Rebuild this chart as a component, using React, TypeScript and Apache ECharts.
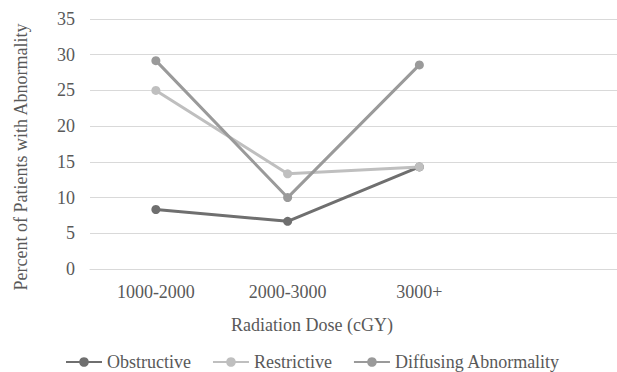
import React, { useEffect, useRef } from "react";
import * as echarts from "echarts";

const categories = ["1000-2000", "2000-3000", "3000+", ""];
const obstructive = [8.33, 6.67, 14.29, null];
const restrictive = [25.0, 13.33, 14.29, null];
const diffusing = [29.17, 10.0, 28.57, null];
const seriesNames = ["Obstructive", "Restrictive", "Diffusing Abnormality"];
const colors = ["#6f6f6f", "#bfbfbf", "#9a9a9a"];
const xTitle = "Radiation Dose (cGY)";
const yTitle = "Percent of Patients with Abnormality";

const FONT = "Liberation Serif";
const TEXT = "#595959";
const FS = 18;

export default function App() {
  const ref = useRef<HTMLDivElement>(null);
  useEffect(() => {
    if (!ref.current) return;
    const chart = echarts.init(ref.current, undefined, { renderer: "svg" });
    const data = [obstructive, restrictive, diffusing];
    chart.setOption({
      animation: false,
      backgroundColor: "#ffffff",
      textStyle: { fontFamily: FONT },
      grid: { left: 90, right: 0, top: 19, bottom: 103, containLabel: false },
      legend: {
        left: 65,
        top: 352,
        padding: 0,
        itemWidth: 36,
        itemHeight: 12,
        itemGap: 21,
        textStyle: { fontFamily: FONT, fontSize: FS, color: TEXT, lineHeight: 20 },
        data: seriesNames,
      },
      xAxis: {
        type: "category",
        data: categories,
        boundaryGap: true,
        axisLine: { show: true, lineStyle: { color: "#d9d9d9", width: 1 } },
        axisTick: { show: false },
        axisLabel: { color: TEXT, fontFamily: FONT, fontSize: FS, margin: 14 },
      },
      yAxis: {
        type: "value",
        min: 0,
        max: 35,
        interval: 5,
        axisLine: { show: false },
        axisTick: { show: false },
        axisLabel: { color: TEXT, fontFamily: FONT, fontSize: FS, margin: 15 },
        splitLine: { lineStyle: { color: "#d9d9d9", width: 1 } },
      },
      graphic: [
        {
          type: "text",
          x: 312,
          y: 325,
          style: {
            text: xTitle,
            fill: TEXT,
            fontFamily: FONT,
            fontSize: FS,
            textAlign: "center",
            textVerticalAlign: "middle",
          },
        },
        {
          type: "text",
          x: 21,
          y: 157,
          rotation: Math.PI / 2,
          style: {
            text: yTitle,
            fill: TEXT,
            fontFamily: FONT,
            fontSize: FS,
            textAlign: "center",
            textVerticalAlign: "middle",
          },
        },
      ],
      series: seriesNames.map((name, i) => ({
        name,
        type: "line",
        data: data[i],
        symbol: "circle",
        symbolSize: 9,
        lineStyle: { color: colors[i], width: 3 },
        itemStyle: { color: colors[i] },
      })),
    });
    return () => chart.dispose();
  }, []);
  return (
    <div
      ref={ref}
      style={{ position: "absolute", left: 0, top: 0, width: 617, height: 372 }}
    />
  );
}
